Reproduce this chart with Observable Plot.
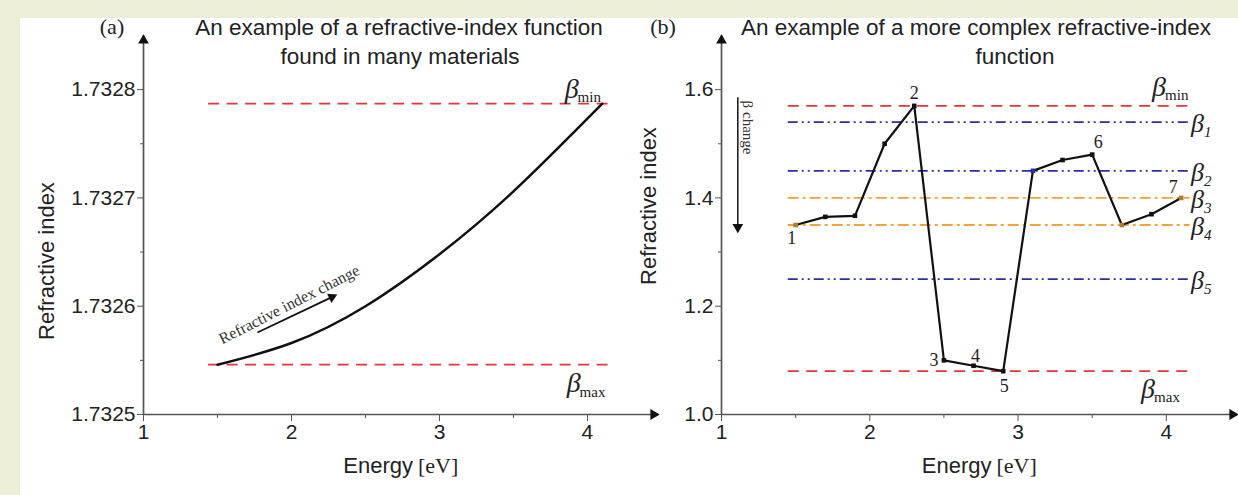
<!DOCTYPE html>
<html>
<head>
<meta charset="utf-8">
<script src="https://cdn.jsdelivr.net/npm/d3@7"></script>
<script src="https://cdn.jsdelivr.net/npm/@observablehq/plot@0.6"></script>
<style>
  html, body { margin:0; padding:0; }
  body { width:1238px; height:495px; background:#eceed8; position:relative; overflow:hidden; font-family:"Liberation Sans", Arial, sans-serif; }
  #sheet { position:absolute; left:20px; top:18px; width:1218px; height:477px; background:#fff; }
  .panel { position:absolute; top:0; height:495px; }
  .ttl { position:absolute; transform:translate(-50%,-50%); white-space:nowrap; font-size:22.5px; color:#222; }
  .tag { position:absolute; transform:translate(-50%,-50%); font-family:"Liberation Serif","Times New Roman",serif; font-size:22px; color:#222; }
</style>
</head>
<body>
<div id="sheet"></div>
<div id="pa" class="panel" style="left:0;width:668px"></div>
<div id="pb" class="panel" style="left:630px;width:608px"></div>
<div class="tag" style="left:112px;top:27px">(a)</div>
<div class="tag" style="left:663px;top:27px">(b)</div>
<div class="ttl" style="left:399px;top:28px">An example of a refractive-index function</div>
<div class="ttl" style="left:400px;top:57px">found in many materials</div>
<div class="ttl" style="left:976px;top:28px">An example of a more complex refractive-index</div>
<div class="ttl" style="left:1015px;top:57px">function</div>
<script>
// ---------- panel (a) data ----------
const energyA = [1.5, 2.0, 2.5, 3.0, 3.5, 4.1];
const indexA = [1.732546, 1.732566, 1.732600, 1.732648, 1.732706, 1.732787];
const xTicksA = [1, 2, 3, 4];
const xMinorA = [1.5, 2.5, 3.5];
const yTicksA = [1.7325, 1.7326, 1.7327, 1.7328];
const yMinorA = [1.73255, 1.73265, 1.73275];
const xDomainA = [1, 4.48];
const yDomainA = [1.7325, 1.73285];
const betaNamesA = ["min", "max"];
const betaValuesA = [1.732787, 1.732546];
const betaSpanA = [1.44, 4.17];
const annotationA = ["Refractive index change"];
const annotationPosA = [1.985, 1.7326015];
const annotationArrowA = [1.77, 1.7325757, 2.28, 1.7326089];

// ---------- panel (b) data ----------
const energyB = [1.5, 1.7, 1.9, 2.1, 2.3, 2.5, 2.7, 2.9, 3.1, 3.3, 3.5, 3.7, 3.9, 4.1];
const indexB = [1.35, 1.365, 1.367, 1.50, 1.57, 1.10, 1.09, 1.08, 1.45, 1.47, 1.48, 1.35, 1.37, 1.40];
const pointLabelsB = ["1", "", "", "", "2", "3", "4", "5", "", "", "6", "", "", "7"];
const xTicksB = [1, 2, 3, 4];
const xMinorB = [1.5, 2.5, 3.5];
const yTicksB = [1.0, 1.2, 1.4, 1.6];
const yMinorB = [1.1, 1.3, 1.5];
const xDomainB = [1, 4.48];
const yDomainB = [1.0, 1.7];
const betaNamesB = ["min", "1", "2", "3", "4", "5", "max"];
const betaValuesB = [1.57, 1.54, 1.45, 1.40, 1.35, 1.25, 1.08];
const betaGroupsB = ["bound", "A", "A", "B", "B", "A", "bound"];
const betaSpanB = [1.45, 4.16];
const betaChangeB = ["β change"];
const betaChangeArrowB = [1.11, 1.585, 1.35];
const betaChangeTextPosB = [1.18, 1.53];

// ---------- styling ----------
const axisColor = "#555", textColor = "#222";
const sans = "Liberation Sans, Arial, sans-serif";
const serif = "Liberation Serif, Times New Roman, serif";
const red = "#e2353d", navy = "#2f2f9c", orange = "#f0a440";
const groupStyle = {
  bound: {stroke: red, strokeDasharray: "11,7.5"},
  A: {stroke: navy, strokeDasharray: "10,4,2,4,2,4"},
  B: {stroke: orange, strokeDasharray: "11,4,3,4"}
};

function frame(xDomain, yDomain, xTicks, xMinor, yTicks, yMinor, yFmt) {
  return [
    Plot.axisX(xTicks, {anchor: "bottom", tickSize: 7, tickPadding: 3, fontSize: 21, fontFamily: sans, stroke: axisColor, fill: textColor, label: null, tickFormat: d3.format("d")}),
    Plot.axisX(xMinor, {anchor: "bottom", tickSize: 4, stroke: axisColor, label: null, tickFormat: () => ""}),
    Plot.axisY(yTicks, {anchor: "left", tickSize: 6, tickPadding: 2, fontSize: 21, fontFamily: sans, stroke: axisColor, fill: textColor, label: null, tickFormat: yFmt}),
    Plot.axisY(yMinor, {anchor: "left", tickSize: 3, stroke: axisColor, label: null, tickFormat: () => ""}),
    Plot.ruleY([yDomain[0]], {x1: xDomain[0], x2: xDomain[1], stroke: axisColor, strokeWidth: 1.7}),
    Plot.ruleX([xDomain[0]], {y1: yDomain[0], y2: yDomain[1], stroke: axisColor, strokeWidth: 1.7}),
    Plot.dot([xDomain[1]], {x: d => d, y: () => yDomain[0], symbol: "triangle", r: 4, fill: "#111", rotate: 90, dx: -5}),
    Plot.dot([yDomain[1]], {x: () => xDomain[0], y: d => d, symbol: "triangle", r: 4, fill: "#111", dy: 5})
  ];
}

function axisLabels(yLabelDx, yLabelDy) {
  return [
    Plot.text(["Refractive index"], {frameAnchor: "left", textAnchor: "middle", rotate: -90, dx: yLabelDx, dy: yLabelDy, fontSize: 22, fontFamily: sans, fill: textColor}),
    Plot.text(["Energy"], {frameAnchor: "bottom", textAnchor: "end", dx: 12, dy: 58, fontSize: 22, fontFamily: sans, fill: textColor}),
    Plot.text(["[eV]"], {frameAnchor: "bottom", textAnchor: "start", dx: 17, dy: 58, fontSize: 22, fontFamily: serif, fill: textColor})
  ];
}

// ---------- panel (a) ----------
const curveA = energyA.map((e, i) => ({e, n: indexA[i]}));
const betasA = betaNamesA.map((name, i) => ({name, v: betaValuesA[i]}));
const minA = betasA.filter(d => d.name === "min");
const maxA = betasA.filter(d => d.name === "max");
const bLabel = {fontFamily: serif, fill: textColor};

const plotA = Plot.plot({
  width: 668, height: 495,
  marginLeft: 143, marginRight: 10, marginTop: 35, marginBottom: 81,
  x: {domain: xDomainA},
  y: {domain: yDomainA},
  style: {background: "transparent", overflow: "visible", maxWidth: "none"},
  marks: [
    Plot.ruleY(betaValuesA, {x1: betaSpanA[0], x2: betaSpanA[1], stroke: red, strokeWidth: 1.8, strokeDasharray: "11,7.5"}),
    Plot.line(curveA, {x: "e", y: "n", curve: "natural", stroke: "#111", strokeWidth: 2.5}),
    ...frame(xDomainA, yDomainA, xTicksA, xMinorA, yTicksA, yMinorA, d3.format(".4f")),
    ...axisLabels(-97, 36),
    Plot.text(minA, {x: () => betaSpanA[1], y: "v", text: () => "β", dx: -41, dy: -15, fontSize: 28, fontStyle: "italic", ...bLabel}),
    Plot.text(minA, {x: () => betaSpanA[1], y: "v", text: "name", textAnchor: "start", dx: -35, dy: -7, fontSize: 15, ...bLabel}),
    Plot.text(maxA, {x: () => betaSpanA[1], y: "v", text: () => "β", dx: -39, dy: 18, fontSize: 28, fontStyle: "italic", ...bLabel}),
    Plot.text(maxA, {x: () => betaSpanA[1], y: "v", text: "name", textAnchor: "start", dx: -33, dy: 27, fontSize: 15, ...bLabel}),
    Plot.text(annotationA, {x: () => annotationPosA[0], y: () => annotationPosA[1], rotate: -27, fontSize: 16, fontFamily: serif, fill: "#333"}),
    Plot.link([annotationArrowA], {x1: d => d[0], y1: d => d[1], x2: d => d[2], y2: d => d[3], stroke: "#111", strokeWidth: 1.8}),
    Plot.dot([annotationArrowA], {x: d => d[2], y: d => d[3], symbol: "triangle", r: 3.8, fill: "#111", rotate: 65, dx: -1, dy: 0.5})
  ]
});
document.getElementById("pa").append(plotA);

// ---------- panel (b) ----------
const pointsB = energyB.map((e, i) => ({e, n: indexB[i], label: pointLabelsB[i]}));
const betasB = betaNamesB.map((name, i) => ({name, v: betaValuesB[i], group: betaGroupsB[i]}));
const labelOffsetB = {"1": [-4, 13], "2": [0, -13], "3": [-10, 0], "4": [2, -10], "5": [1, 15], "6": [6, -12], "7": [-8, -11]};
function markerColor(d) {
  const b = betasB.find(b => Math.abs(b.v - d.n) < 1e-9 && b.group !== "bound");
  return b ? (b.group === "A" ? navy : "#b07a30") : "#111";
}

const minB = betasB.filter(d => d.name === "min");
const maxB = betasB.filter(d => d.name === "max");
const numB = betasB.filter(d => d.name !== "min" && d.name !== "max");

const plotB = Plot.plot({
  width: 608, height: 495,
  marginLeft: 91, marginRight: 1, marginTop: 35, marginBottom: 81,
  x: {domain: xDomainB},
  y: {domain: yDomainB},
  style: {background: "transparent", overflow: "visible", maxWidth: "none"},
  marks: [
    ...["bound", "A", "B"].map(g => Plot.ruleY(betasB.filter(d => d.group === g), {y: "v", x1: betaSpanB[0], x2: betaSpanB[1], strokeWidth: 1.8, ...groupStyle[g]})),
    Plot.line(pointsB, {x: "e", y: "n", stroke: "#111", strokeWidth: 2.2}),
    Plot.dot(pointsB, {x: "e", y: "n", symbol: "square", r: 2.6, fill: markerColor}),
    ...pointsB.filter(d => d.label).map(d => Plot.text([d], {x: "e", y: "n", text: "label", dx: labelOffsetB[d.label][0], dy: labelOffsetB[d.label][1], fontSize: 18, fontFamily: serif, fill: "#222"})),
    ...frame(xDomainB, yDomainB, xTicksB, xMinorB, yTicksB, yMinorB, d3.format(".1f")),
    ...axisLabels(-73, -19),
    Plot.text(minB, {x: () => betaSpanB[1], y: "v", text: () => "β", dx: -31, dy: -19, fontSize: 28, fontStyle: "italic", ...bLabel}),
    Plot.text(minB, {x: () => betaSpanB[1], y: "v", text: "name", textAnchor: "start", dx: -25, dy: -11, fontSize: 15, ...bLabel}),
    Plot.text(maxB, {x: () => betaSpanB[1], y: "v", text: () => "β", dx: -42, dy: 18, fontSize: 28, fontStyle: "italic", ...bLabel}),
    Plot.text(maxB, {x: () => betaSpanB[1], y: "v", text: "name", textAnchor: "start", dx: -36, dy: 26, fontSize: 15, ...bLabel}),
    Plot.text(numB, {x: () => betaSpanB[1], y: "v", text: () => "β", textAnchor: "start", dx: 1, dy: 2, fontSize: 26, fontStyle: "italic", ...bLabel}),
    Plot.text(numB, {x: () => betaSpanB[1], y: "v", text: "name", textAnchor: "start", dx: 14, dy: 10, fontSize: 15, fontStyle: "italic", ...bLabel}),
    Plot.ruleX([betaChangeArrowB], {x: d => d[0], y1: d => d[1], y2: d => d[2], stroke: "#222", strokeWidth: 1.6}),
    Plot.dot([betaChangeArrowB], {x: d => d[0], y: d => d[2], symbol: "triangle", r: 4, fill: "#111", rotate: 180, dy: 2}),
    Plot.text(betaChangeB, {x: () => betaChangeTextPosB[0], y: () => betaChangeTextPosB[1], rotate: 90, fontSize: 15, fontFamily: serif, fill: "#333"})
  ]
});
document.getElementById("pb").append(plotB);
</script>
</body>
</html>
